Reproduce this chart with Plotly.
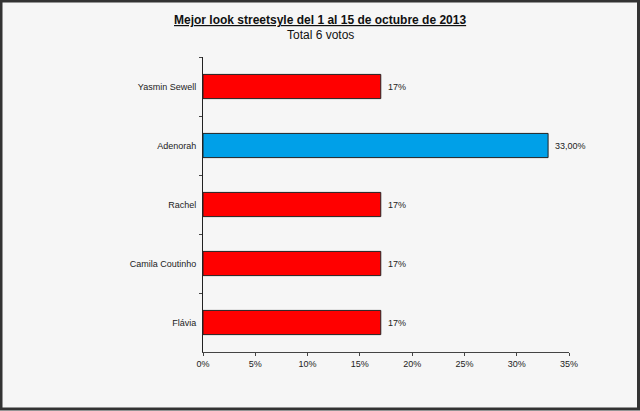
import plotly.graph_objects as go

categories = ["Yasmin Sewell", "Adenorah", "Rachel", "Camila Coutinho", "Flávia"]
values = [17, 33, 17, 17, 17]
value_labels = ["17%", "33,00%", "17%", "17%", "17%"]
colors = ["#ff0000", "#00a0e8", "#ff0000", "#ff0000", "#ff0000"]
x_ticks = [0, 5, 10, 15, 20, 25, 30, 35]
x_tick_labels = ["0%", "5%", "10%", "15%", "20%", "25%", "30%", "35%"]

L, R, T, B = 203, 71, 57, 59
W, H = 640, 411
pw, ph = W - L - R, H - T - B

def px(x):
    return (x - L) / pw

def py(y):
    return (H - B - y) / ph

fig = go.Figure(go.Bar(
    x=values, y=categories, orientation="h",
    marker=dict(color=colors, line=dict(color="#222222", width=1)),
    width=0.41,
))

label_annotations = [
    dict(x=v, y=c, text=t, xref="x", yref="y", showarrow=False,
         xanchor="left", yanchor="middle", xshift=5,
         font=dict(family="Arial, Liberation Sans", size=9, color="#222222"))
    for v, c, t in zip(values, categories, value_labels)
]

fig.update_layout(
    width=W, height=H,
    margin=dict(l=L, r=R, t=T, b=B),
    paper_bgcolor="#f6f6f6", plot_bgcolor="#f6f6f6",
    showlegend=False,
    font=dict(family="Arial, Liberation Sans", size=9, color="#222222"),
    xaxis=dict(range=[0, 35], tickvals=x_ticks, ticktext=x_tick_labels,
               showgrid=False, zeroline=False, showline=True, linecolor="#444444",
               linewidth=1, ticks="outside", ticklen=3, tickcolor="#444444",
               tickfont=dict(size=9, color="#222222")),
    yaxis=dict(autorange="reversed", showgrid=False, zeroline=False, showline=True,
               linecolor="#222222", linewidth=1, ticks="outside", ticklen=3,
               tickcolor="#444444", tickson="boundaries",
               tickfont=dict(size=9, color="#222222"), ticklabelstandoff=4),
    annotations=label_annotations + [
        dict(text="<b><u>Mejor look streetsyle del 1 al 15 de octubre de 2013</u></b>",
             xref="paper", yref="paper", x=px(320), y=py(20), showarrow=False,
             xanchor="center", yanchor="middle",
             font=dict(family="Arial, Liberation Sans", size=12, color="#111111")),
        dict(text="Total 6 votos",
             xref="paper", yref="paper", x=px(320), y=py(35), showarrow=False,
             xanchor="center", yanchor="middle",
             font=dict(family="Arial, Liberation Sans", size=12, color="#111111")),
    ],
    shapes=[
        dict(type="rect", xref="paper", yref="paper",
             x0=px(1), x1=px(638.5), y0=py(409), y1=py(1),
             line=dict(color="#333333", width=3), layer="above"),
    ],
)

fig.write_html("out.html")
